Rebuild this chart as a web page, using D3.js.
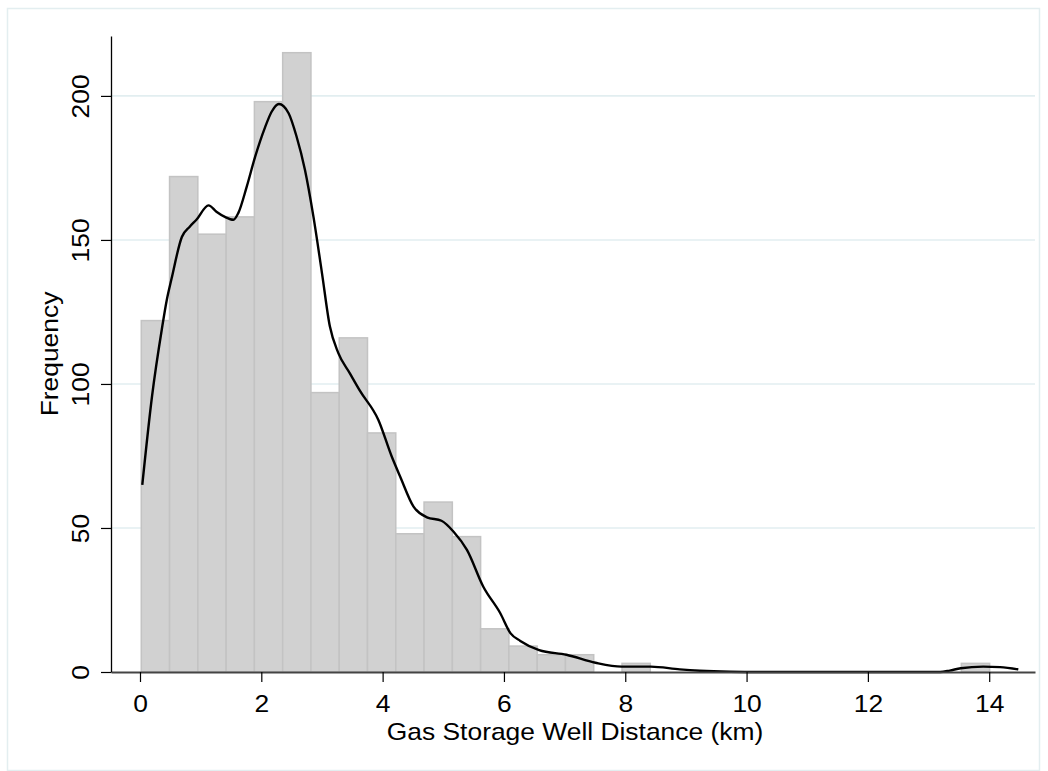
<!DOCTYPE html>
<html>
<head>
<meta charset="utf-8">
<script src="https://cdn.jsdelivr.net/npm/d3@7"></script>
<style>
  body { margin: 0; background: #fff; }
  text { font-family: "Liberation Sans", Arial, sans-serif; fill: #000; }
</style>
</head>
<body>
<div class="chart"></div>
<script>
// Histogram of gas storage well distance with kernel density overlay

// bins: 31 bins of equal width starting at the minimum distance
var binStart = 0.021;
var binWidth = 0.4662;
var binCounts = [122, 172, 152, 158, 198, 215, 97, 116, 83, 48, 59, 47, 15, 9, 6, 6,
  0, 3, 0, 0, 0, 0, 0, 0, 0, 0, 0, 0, 0, 3, 0];

// kernel density (scaled to frequency)
var densityX = [0.038, 0.2, 0.36, 0.44, 0.52, 0.69, 0.82, 0.93, 1.13, 1.26, 1.4, 1.54, 1.62,
  1.76, 1.9, 2.06, 2.17, 2.29, 2.45, 2.58, 2.72, 2.86, 3.0, 3.13, 3.27, 3.46, 3.63, 3.93,
  4.15, 4.29, 4.51, 4.73, 4.97, 5.17, 5.39, 5.66, 5.94, 6.11, 6.27, 6.58, 7.03, 7.51, 7.94,
  8.42, 8.9, 9.23, 9.73, 10.2, 13.19, 13.35, 13.53, 13.9, 14.18, 14.48];
var densityY = [65, 96, 119, 129, 136.5, 151, 154.6, 157, 162, 159.8, 158, 157, 159.3,
  168.5, 179, 189, 194.5, 197.2, 194, 186, 174.3, 158, 138.5, 120, 110.7, 103.7, 97.5, 87.5,
  74.8, 67.8, 57.4, 53.7, 52.5, 48.7, 42.4, 29.6, 20.4, 13.4, 10.8, 7.6, 6.0, 3.2, 1.85,
  1.85, 0.9, 0.45, 0.1, 0, 0, 0.5, 1.3, 1.85, 1.7, 0.9];

var xTicks = [0, 2, 4, 6, 8, 10, 12, 14];
var yTicks = [0, 50, 100, 150, 200];

var xTitle = "Gas Storage Well Distance (km)";
var yTitle = "Frequency";

var svgWidth = 1048;
var svgHeight = 771;
var fontSize = 24;
var stretch = 1.1;

var svg = d3.select(".chart")
  .append("svg")
  .attr("width", svgWidth)
  .attr("height", svgHeight);

// light frame round the graph region
svg.append("rect")
  .attr("x", 7.5)
  .attr("y", 8.5)
  .attr("width", 1032)
  .attr("height", 762)
  .attr("fill", "none")
  .attr("stroke", "#e3eef0")
  .attr("stroke-width", 1.5);

// scales
var xScale = d3.scaleLinear()
  .domain([-0.478, 14.755])
  .range([111, 1035]);

var yScale = d3.scaleLinear()
  .domain([0, 220.8])
  .range([672, 36]);

// gridlines
svg.append("g")
  .selectAll("line")
  .data(yTicks.filter(d => d > 0))
  .enter()
  .append("line")
  .attr("x1", xScale.range()[0])
  .attr("x2", xScale.range()[1])
  .attr("y1", d => yScale(d))
  .attr("y2", d => yScale(d))
  .attr("stroke", "#e2eef0")
  .attr("stroke-width", 1.6);

// bars
svg.append("g")
  .selectAll("rect")
  .data(binCounts.map((c, i) => ({ x0: binStart + i * binWidth, x1: binStart + (i + 1) * binWidth, n: c })))
  .enter()
  .filter(d => d.n > 0)
  .append("rect")
  .attr("x", d => xScale(d.x0))
  .attr("width", d => xScale(d.x1) - xScale(d.x0))
  .attr("y", d => yScale(d.n))
  .attr("height", d => yScale(0) - yScale(d.n))
  .attr("fill", "#d1d1d1")
  .attr("stroke", "#c3c3c3")
  .attr("stroke-width", 1.5);

// density line
var line = d3.line()
  .x(d => xScale(d[0]))
  .y(d => yScale(d[1]))
  .curve(d3.curveMonotoneX);

svg.append("path")
  .datum(densityX.map((x, i) => [x, densityY[i]]))
  .attr("d", line)
  .attr("fill", "none")
  .attr("stroke", "#000")
  .attr("stroke-width", 2.4);

// x axis
var xAxis = svg.append("g")
  .attr("transform", `translate(0, ${yScale(0)})`)
  .call(d3.axisBottom(xScale).tickValues(xTicks).tickSize(10).tickSizeOuter(0));

xAxis.select(".domain").attr("stroke", "#444").attr("stroke-width", 1.8);
xAxis.selectAll(".tick line").attr("stroke", "#000").attr("stroke-width", 1.2);
xAxis.selectAll(".tick text")
  .attr("y", 40)
  .attr("dy", null)
  .attr("font-size", fontSize)
  .attr("font-family", "Liberation Sans, Arial, sans-serif")
  .attr("fill", "#000")
  .attr("transform", `scale(${stretch},1)`);

// y axis
var yAxis = svg.append("g")
  .attr("transform", `translate(${xScale.range()[0]}, 0)`)
  .call(d3.axisLeft(yScale).tickValues(yTicks).tickSize(10).tickSizeOuter(0));

yAxis.select(".domain").attr("stroke", "#000").attr("stroke-width", 1.3);
yAxis.selectAll(".tick line").attr("stroke", "#000").attr("stroke-width", 1.2);
yAxis.selectAll(".tick text")
  .attr("x", null)
  .attr("dy", null)
  .attr("text-anchor", "middle")
  .attr("font-size", fontSize)
  .attr("font-family", "Liberation Sans, Arial, sans-serif")
  .attr("fill", "#000")
  .attr("transform", `translate(-22, 0) rotate(-90) scale(${stretch},1)`);

// axis titles
svg.append("text")
  .attr("transform", `translate(575, 740) scale(${stretch},1)`)
  .attr("text-anchor", "middle")
  .attr("font-size", fontSize)
  .text(xTitle);

svg.append("text")
  .attr("transform", `translate(58, 354) rotate(-90) scale(${stretch},1)`)
  .attr("text-anchor", "middle")
  .attr("font-size", fontSize)
  .text(yTitle);
</script>
</body>
</html>
